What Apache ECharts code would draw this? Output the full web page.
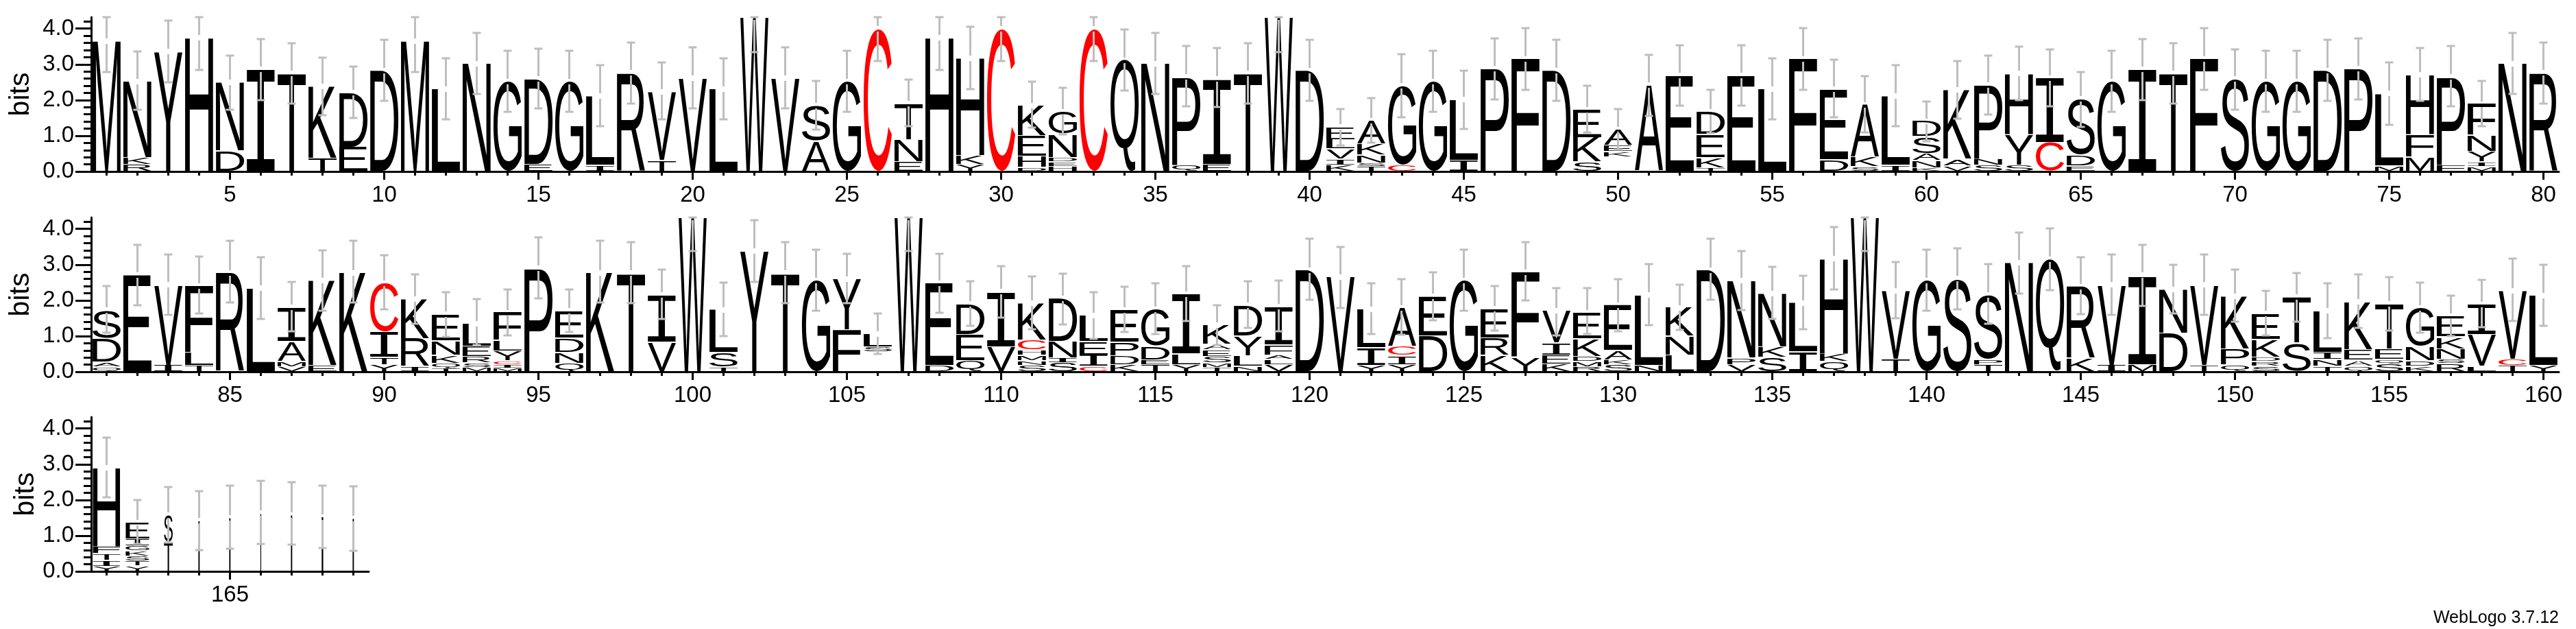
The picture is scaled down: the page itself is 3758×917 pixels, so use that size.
<!DOCTYPE html>
<html><head><meta charset="utf-8">
<style>html,body{margin:0;padding:0;background:#fff}#c{width:3758px;height:917px}</style>
<script src="https://cdn.jsdelivr.net/npm/echarts@6/dist/echarts.min.js"></script>
</head><body><div id="c"></div>
<script>
// Letters of each position, top of the stack first (a blank is an unreadable sliver)
const stackLetters = [
"M","NKR","Y","H","ND","I","T","KT","DE","D","M","L","N","G","DE","G","LI","R","VT","V",
"L","W","V","SA","G","C","TNE","H","HKY","C","KEHD","GNDEH","C","Q","N","PQ","IE","T","W","D",
"ELVIK","AKNST","GC","G","LI","P","F","D","EKS","AEK ","A","E","DEKT","E","L","F","ED","AKS","LI","DSANK",
"KAV","PNS","HYS","IC","SDE","G","I","T","F","S","G","G","D","P","LM","HFM","PF","FNYIM","N","R",
"SDAQ","E","VI","FLT","R","L","IAMV","KE","K","CITY","KRI","ENKQT","LERSM","FLYCIM","P","EDNQ","K","T","IV","W",
"LST","Y","T","G","YF","LS ","W","ED","DEQ","IV","KCHMNS","DNIS","LEIC","EPDK","GDET","ILY","KAESMT","DYLN","IFALV","D",
"V","LIY","ACIY","ED","G","ERK","FY","VIEK","EKDMR","EAKS","LN","KNL","D","NPV","NKS","LI","HKQ","W","VT","G",
"S","SPT","N","Q","RK","VI","IM","ND","VT","KPQ","EKDRS","TS","LINT","KEAQ","TEQS","GNDK","EKNSR","IVL","VCT","LY",
"HFTIY","EIGKSTY","ST","IAI","I","I","I","I","I"
];
// Bits of each letter, same order
const stackBits = [
[3.65],[2.14,.19,.19],[3.36],[3.74],[1.92,.57],[2.86],[2.74],[2.02,.36],[1.52,.68],[2.83],
[3.65],[2.31],[3.02],[2.52],[2.39,.2],[2.52],[1.95,.17],[2.76],[1.93,.3],[2.62],
[2.31],[4.32],[2.62],[1,.85],[2.52],[3.99],[1.02,.62,.27],[3.74],[2.73,.24,.2],[3.99],
[.85,.58,.31,.11],[.64,.65,.13,.12,.14],[3.99],[3.12],[3.02],[2.47,.18],[2.4,.2],[2.74],[4.32],[2.83],
[.35,.26,.28,.17,.18],[.66,.31,.22,.1,.14],[2.22,.18],[2.52],[1.7,.31],[2.88],[3.15],[2.83],[.79,.68,.26],[.45,.17,.16,.4],
[2.41],[2.68],[.65,.65,.28,.1],[2.68],[2.31],[3.15],[1.97,.33],[1.48,.26,.13],[1.95,.17],[.43,.47,.2,.2,.1],
[1.94,.18,.16],[2.06,.18,.17],[1.7,.86,.18],[1.82,.8],[1.58,.3,.15],[2.52],[2.86],[2.74],[3.15],[2.59],
[2.52],[2.52],[2.83],[2.88],[2.03,.15],[1.68,.62,.4],[2.47,.18],[.88,.45,.3,.13,.13],[3.02],[2.76],
[.8,.67,.13,.13],[2.71],[2.25,.18],[1.87,.36,.17],[2.77],[2.34],[.96,.55,.15,.14],[2.38,.17],[2.77],[1.36,.72,.2,.2],
[1.1,.78,.15],[.75,.4,.22,.14,.1],[.63,.3,.18,.12,.12],[.78,.3,.27,.11,.1,.1],[2.89],[.77,.4,.3,.24],[2.77],[2.76],[1.33,.82],[4.32],
[1.2,.4,.13],[3.37],[2.76],[2.55],[1.42,1.18],[.36,.15,.55],[4.32],[2.3,.18],[.87,.73,.3],[1.55,.69],
[1.03,.28,.15,.15,.13,.18],[1.2,.46,.14,.25],[.73,.38,.32,.15],[.9,.38,.25,.2],[1.03,.38,.14,.19],[1.68,.3,.19],[.55,.15,.18,.18,.13,.12],[.87,.55,.3,.15],[1.08,.28,.12,.15,.2],[2.85],
[2.65],[1.08,.5,.17],[1.08,.26,.25,.2],[1.12,1],[2.55],[.82,.5,.45],[2.39,.4],[.9,.33,.25,.22],[.74,.5,.14,.14,.14],[1.28,.26,.14,.19],
[1.98,.18],[.8,.52,.47],[2.85],[2.17,.18,.2],[1.5,.29,.4],[1.37,.55],[2.67,.21,.28],[4.32],[1.92,.35],[2.55],
[2.61],[1.82,.14,.2],[3.05],[3.14],[2.02,.37],[2.25,.18],[2.5,.2],[1.22,1.08],[2.25,.18],[1.48,.45,.19],
[.72,.5,.13,.12,.16],[1.3,.8],[1.16,.2,.18,.16],[1.33,.3,.16,.16],[1.26,.3,.12,.22],[1.08,.4,.15,.16],[.58,.33,.3,.12,.22],[.85,.88,.15],[1.92,.17,.18],[1.96,.18],
[2.22,.19,.18,.17,.14],[.46,.2,.14,.14,.14,.14,.15],[.75,.82],[.6,.25,.58],[1.5],[1.63],[1.57],[1.52],[1.47]
];
// Upper and lower end of the error bar at each position (bits)
const errHigh = [
4.32,3.36,4.23,4.32,3.24,3.7,3.6,3.19,2.93,3.69,4.32,3.17,3.88,3.38,3.44,3.38,2.97,3.61,3.06,3.47,
3.17,4.32,3.47,2.54,3.38,4.32,2.57,4.32,4.05,4.32,2.51,2.34,4.32,3.98,3.88,3.52,3.45,3.6,4.32,3.69,
1.74,2.06,3.28,3.38,2.83,3.73,4.02,3.69,2.4,1.74,3.26,3.53,2.29,3.53,3.17,4.02,3.13,2.67,2.97,1.96,
3.1,3.24,3.49,3.42,2.79,3.38,3.7,3.6,4.02,3.42,3.38,3.38,3.69,3.73,3.06,3.45,3.52,2.54,3.88,3.61,
2.4,3.56,3.29,3.23,3.66,3.21,2.52,3.4,3.66,3.27,2.73,2.23,2.03,2.31,3.76,2.31,3.66,3.63,2.86,4.32,
2.5,4.24,3.63,3.41,3.31,1.63,4.32,3.31,2.54,2.95,2.66,2.75,2.23,2.39,2.47,2.96,1.86,2.53,2.55,3.72,
3.5,2.47,2.59,2.79,3.41,2.4,3.63,2.34,2.34,2.6,3.01,2.43,3.72,3.37,2.93,2.68,4.05,4.32,3.08,3.41,
3.46,3.01,3.9,4.02,3.21,3.29,3.55,2.99,3.29,2.86,2.27,2.77,2.47,2.72,2.65,2.5,2.14,2.57,3.16,2.99,
3.75,1.99,2.37,2.25,2.4,2.53,2.49,2.4,2.39
];
const errLow = [
2.78,1.72,2.49,2.85,1.73,2,1.9,1.57,1.5,1.98,2.78,1.46,2.17,1.68,1.77,1.68,1.27,1.91,1.46,1.77,
1.46,3.34,1.77,1.18,1.68,3.09,1.26,2.85,2.31,3.09,1.22,1.03,3.09,2.27,2.17,1.82,1.8,1.9,3.34,1.98,
.73,.8,1.52,1.68,1.19,2.02,2.29,1.98,1.09,.62,1.56,1.84,1.08,1.84,1.46,2.29,1.52,1.09,1.27,.85,
1.48,1.6,2,1.83,1.25,1.68,2,1.9,2.29,1.73,1.68,1.68,1.98,2.02,1.3,1.98,1.82,1.27,2.17,1.91,
1.1,1.86,1.59,1.63,1.94,1.48,1.13,1.71,1.94,1.74,1.34,.98,.74,1.01,2.05,1.11,1.94,1.92,1.47,3.37,
1,2.52,1.92,1.71,1.92,.5,3.37,1.66,1.28,1.52,1.19,1.32,.92,1.12,1.06,1.42,.75,1.23,1.13,2.02,
1.79,1.05,1.03,1.44,1.71,1.16,2,1.02,1.05,1.14,1.31,1.18,2.02,1.73,1.48,1.19,2.31,3.37,1.5,1.71,
1.75,1.35,2.19,2.29,1.61,1.59,1.85,1.63,1.59,1.4,1.01,1.4,.94,1.23,1.15,1.1,1,1.24,1.43,1.29,
2.07,.77,.8,.6,.64,.77,.74,.65,.58
];
// Share of the column width each position earns (the tail of the alignment is mostly gaps)
const columnWeight = {161:.97,162:.84,163:.31,164:.05,165:.05,166:.03,167:.05,168:.06,169:.05};
const yMajorTicks = [0,1,2,3,4];
const yMinorTicks = [.2,.4,.6,.8,1.2,1.4,1.6,1.8,2.2,2.4,2.6,2.8,3.2,3.4,3.6,3.8,4.2];
const yMax = 4.32;
const rows = [
  {first:1,  last:80,  top:25,  height:225},
  {first:81, last:160, top:317, height:225},
  {first:161,last:169, top:608, height:225}
];

const GREY = '#bebebe', BAND = 45, LEFT = 133;
const measure = document.createElement('canvas').getContext('2d');
const inkCache = {};
function glyphFont(ch,w){ return (ch==='I' && w>.2 ? '"Liberation Mono"' : '"Liberation Sans"'); }
function ink(ch,w){
  const font=glyphFont(ch,w), key=ch+font;
  if(inkCache[key]) return inkCache[key];
  measure.font = '200px ' + font;
  measure.textAlign='left'; measure.textBaseline='middle';
  const m = measure.measureText(ch);
  return inkCache[key] = {l:m.actualBoundingBoxLeft,r:m.actualBoundingBoxRight,a:m.actualBoundingBoxAscent,d:m.actualBoundingBoxDescent};
}
const grid=[],xAxis=[],yAxis=[],series=[];
rows.forEach((row,ri)=>{
  const cats=[]; for(let p=row.first;p<=row.last;p++) cats.push(String(p));
  grid.push({left:LEFT,top:row.top,width:BAND*cats.length,height:row.height});
  const isMajor=(i,v)=>(+v)%5===0;
  xAxis.push({gridIndex:ri,type:'category',position:'bottom',data:cats,boundaryGap:true,
    axisLine:{show:true,onZero:false,lineStyle:{color:'#000',width:3}},
    axisTick:{show:true,alignWithLabel:true,interval:0,length:6,lineStyle:{color:'#000',width:3}},
    axisLabel:{show:true,interval:isMajor,margin:18,hideOverlap:false,fontFamily:'"Liberation Sans"',fontSize:33,color:'#000'},
    splitLine:{show:false}});
  xAxis.push({gridIndex:ri,type:'category',position:'bottom',data:cats,boundaryGap:true,
    axisLine:{show:false,onZero:false},
    axisTick:{show:true,alignWithLabel:true,interval:isMajor,length:12,lineStyle:{color:'#000',width:3}},
    axisLabel:{show:false},splitLine:{show:false}});
  const xIdx=ri*2, yIdx=ri*2;
  yAxis.push({gridIndex:ri,type:'value',position:'left',min:0,max:yMax,interval:1,
    name:'bits',nameLocation:'middle',nameRotate:90,nameGap:74,
    nameTextStyle:{fontFamily:'"Liberation Sans"',fontSize:41,color:'#000'},
    axisLine:{show:true,onZero:false,lineStyle:{color:'#000',width:3}},
    axisTick:{show:true,length:23,customValues:yMajorTicks,lineStyle:{color:'#000',width:3}},
    axisLabel:{show:true,margin:25,customValues:yMajorTicks,formatter:v=>v.toFixed(1),fontFamily:'"Liberation Sans"',fontSize:33,color:'#000'},
    splitLine:{show:false}});
  yAxis.push({gridIndex:ri,type:'value',position:'left',min:0,max:yMax,interval:1,
    axisLine:{show:false,onZero:false},
    axisTick:{show:true,length:11,customValues:yMinorTicks,lineStyle:{color:'#000',width:3}},
    axisLabel:{show:false},splitLine:{show:false}});

  // letters
  const recs=[], bars=[];
  for(let p=row.first;p<=row.last;p++){
    const letters=stackLetters[p-1], bits=stackBits[p-1];
    let y=0;
    for(let k=letters.length-1;k>=0;k--){
      const ch=letters[k], h=bits[k];
      if(ch!==' ') recs.push({i:p-row.first,ch,y0:y,y1:y+h,w:columnWeight[p]||1});
      y+=h;
    }
    bars.push({i:p-row.first,top:Math.min(y,yMax),hi:errHigh[p-1],lo:errLow[p-1]});
  }
  series.push({type:'custom',xAxisIndex:xIdx,yAxisIndex:yIdx,clip:false,silent:true,z:3,
    encode:{x:0,y:[1,2]},
    data:recs.map(r=>[r.i,r.y0,r.y1]),
    renderItem:(params,api)=>{
      const r=recs[params.dataIndex];
      const band=api.size([1,0])[0];
      const c=api.coord([r.i,r.y0]), t=api.coord([r.i,r.y1]);
      const w=band*0.915*r.w, left=c[0]-w/2;
      const bottom=c[1]-1, top=t[1]+0.4;
      const h=Math.max(bottom-top,1);
      const g=ink(r.ch,r.w), sx=w/(g.l+g.r), sy=h/(g.a+g.d);
      return {type:'text',x:left+g.l*sx,y:top+g.a*sy,scaleX:sx,scaleY:sy,
        style:{text:r.ch,x:0,y:0,font:'200px '+glyphFont(r.ch,r.w),align:'left',verticalAlign:'middle',
          fill:r.ch==='C'?'#ff0000':'#000000'}};
    }});
  // error bars
  series.push({type:'custom',xAxisIndex:xIdx,yAxisIndex:yIdx,clip:false,silent:true,z:4,
    encode:{x:0,y:[1,2]},
    data:bars.map(b=>[b.i,b.lo,b.hi]),
    renderItem:(params,api)=>{
      const b=bars[params.dataIndex];
      const x=Math.round(api.coord([b.i,0])[0])-1;
      const yHi=Math.round(api.coord([b.i,b.hi])[1]), yLo=Math.round(api.coord([b.i,b.lo])[1]), yT=Math.round(api.coord([b.i,b.top])[1]);
      const rect=(x0,y0,ww,hh)=>({type:'rect',shape:{x:x0,y:y0,width:ww,height:hh},style:{fill:GREY}});
      const kids=[rect(x-5.5,yHi-1.5,12,3),rect(x-5.5,yLo-1.5,12,3)];
      const up=yT-4, dn=yT+4;
      if(up>yHi) kids.push(rect(x-1,yHi,3,up-yHi));
      if(yLo>dn) kids.push(rect(x-1,dn,3,yLo-dn));
      return {type:'group',children:kids};
    }});
});
const chart=echarts.init(document.getElementById('c'),null,{renderer:'canvas',width:3758,height:917});
chart.setOption({animation:false,backgroundColor:'#fff',
  grid,xAxis,yAxis,series,
  graphic:[{type:'text',right:25,top:889,silent:true,style:{text:'WebLogo 3.7.12',font:'25px "Liberation Sans"',fill:'#000'}}]
});
</script></body></html>
